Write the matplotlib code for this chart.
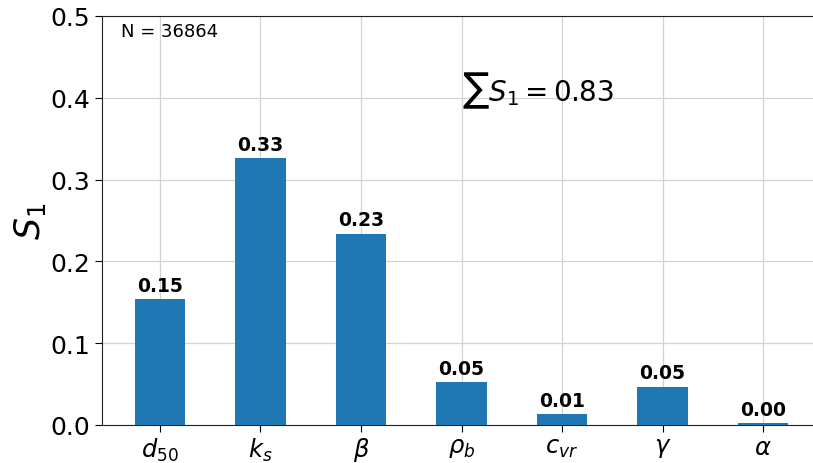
import matplotlib
matplotlib.use("Agg")
import matplotlib.pyplot as plt
import numpy as np

params = [r"$d_{50}$", r"$k_s$", r"$\beta$", r"$\rho_b$", r"$c_{vr}$", r"$\gamma$", r"$\alpha$"]
S1 = [0.154, 0.326, 0.234, 0.052, 0.013, 0.047, 0.002]
n_samples = 36864

fig = plt.figure(figsize=(8.13, 4.64), dpi=100)
# axes runs slightly past the right edge, as in the reference crop
ax = fig.add_axes([102 / 813, 38 / 464, 719 / 813, 409 / 464])

x = np.arange(len(params))
bars = ax.bar(x, S1, width=0.5, color="#1f77b4", zorder=3)
for b, v in zip(bars, S1):
    ax.text(b.get_x() + b.get_width() / 2, v + 0.005, f"{v:.2f}",
            ha="center", va="bottom", fontsize=13.5, fontweight="bold")

ax.set_xticks(x)
ax.set_xticklabels(params, fontsize=17.5)
ax.set_xlim(-0.575, 6.575)
ax.set_ylim(0, 0.5)
ax.set_yticks([0.0, 0.1, 0.2, 0.3, 0.4, 0.5])
ax.tick_params(axis="y", labelsize=18)
ax.tick_params(axis="both", length=5)
ax.tick_params(axis="x", pad=2.5)
ax.set_ylabel(r"$S_1$", fontsize=25, labelpad=2)
ax.grid(True, color="#d3d3d3", linewidth=0.9, zorder=0)
ax.spines["right"].set_visible(False)
for s in ["left", "top", "bottom"]:
    ax.spines[s].set_color("#222222")

ax.text(0.027, 0.985, f"N = {n_samples}", transform=ax.transAxes,
        ha="left", va="top", fontsize=13)
ax.text(3.0, 0.385, r"$\sum S_1 = $" + f"{sum(S1):.2f}", fontsize=20,
        ha="left", va="bottom")

fig.savefig("out.png", dpi=100)
